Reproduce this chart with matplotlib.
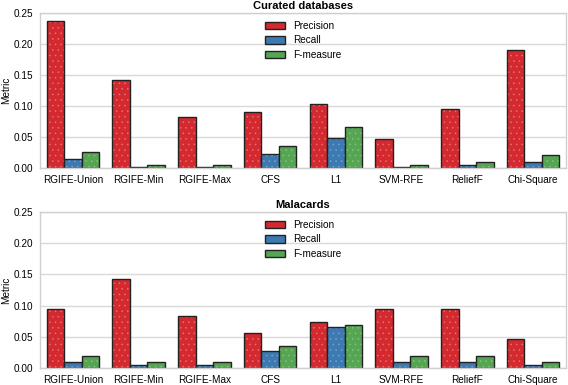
import numpy as np
import matplotlib
matplotlib.use("Agg")
import matplotlib.pyplot as plt
from matplotlib.patches import Patch

methods = ["RGIFE-Union", "RGIFE-Min", "RGIFE-Max", "CFS", "L1", "SVM-RFE", "ReliefF", "Chi-Square"]
series = ["Precision", "Recall", "F-measure"]

curated_precision = [0.237, 0.142, 0.083, 0.090, 0.104, 0.047, 0.095, 0.190]
curated_recall    = [0.014, 0.002, 0.002, 0.022, 0.048, 0.002, 0.005, 0.010]
curated_fmeasure  = [0.026, 0.005, 0.005, 0.036, 0.066, 0.005, 0.010, 0.021]

mala_precision = [0.095, 0.143, 0.083, 0.056, 0.074, 0.095, 0.095, 0.047]
mala_recall    = [0.010, 0.005, 0.005, 0.027, 0.066, 0.010, 0.010, 0.005]
mala_fmeasure  = [0.019, 0.010, 0.010, 0.036, 0.069, 0.019, 0.019, 0.010]

titles = ["Curated databases", "Malacards"]
yticks = [0.00, 0.05, 0.10, 0.15, 0.20, 0.25]
colors = ["#d42a2f", "#3d7ab1", "#56a553"]
hatch_colors = ["#e3777b", "#7fa6cc", "#8cc38a"]

plt.rcParams['font.family'] = ['Liberation Sans', 'DejaVu Sans']
plt.rcParams['hatch.linewidth'] = 0.35

fig = plt.figure(figsize=(5.68, 3.85), dpi=100)
W, H = 568, 385
ax_boxes = [(40, 13, 566, 168), (40, 212, 566, 368)]
data = [[curated_precision, curated_recall, curated_fmeasure],
        [mala_precision, mala_recall, mala_fmeasure]]

x = np.arange(len(methods))
bw = 0.8 / 3
for k, (l, t, r, b) in enumerate(ax_boxes):
    ax = fig.add_axes([l / W, 1 - b / H, (r - l) / W, (b - t) / H])
    ax.set_axisbelow(True)
    for i, vals in enumerate(data[k]):
        pos = x + (i - 1) * bw
        plt.rcParams['hatch.color'] = hatch_colors[i]
        ax.bar(pos, vals, width=bw, color=colors[i], edgecolor=hatch_colors[i],
               linewidth=0, hatch='...')
        ax.bar(pos, vals, width=bw, facecolor='none', edgecolor='#222222', linewidth=1.0)
    ax.set_xlim(-0.5, len(methods) - 0.5)
    ax.set_ylim(0, 0.25)
    ax.set_yticks(yticks)
    ax.set_yticklabels([f"{v:.2f}" for v in yticks])
    ax.set_xticks(x)
    ax.set_xticklabels(methods)
    ax.tick_params(axis='both', length=0, labelsize=7.2, pad=5)
    ax.yaxis.grid(True, color='#d9d9d9', linewidth=1.0)
    for s in ax.spines.values():
        s.set_color('#d0d0d0')
        s.set_linewidth(1.0)
    ax.set_ylabel("Metric", fontsize=7.2)
    ax.yaxis.set_label_coords(-0.055, 0.5)
    ax.set_title(titles[k], fontsize=8, fontweight='bold', pad=3)
    handles = [Patch(facecolor=colors[i], edgecolor='#222222', linewidth=1.0) for i in range(3)]
    ax.legend(handles, series, loc='upper center', frameon=False, fontsize=7.2,
              handlelength=2.0, handleheight=0.8, labelspacing=0.45, borderaxespad=0.4)

fig.savefig("out.png", dpi=100)
